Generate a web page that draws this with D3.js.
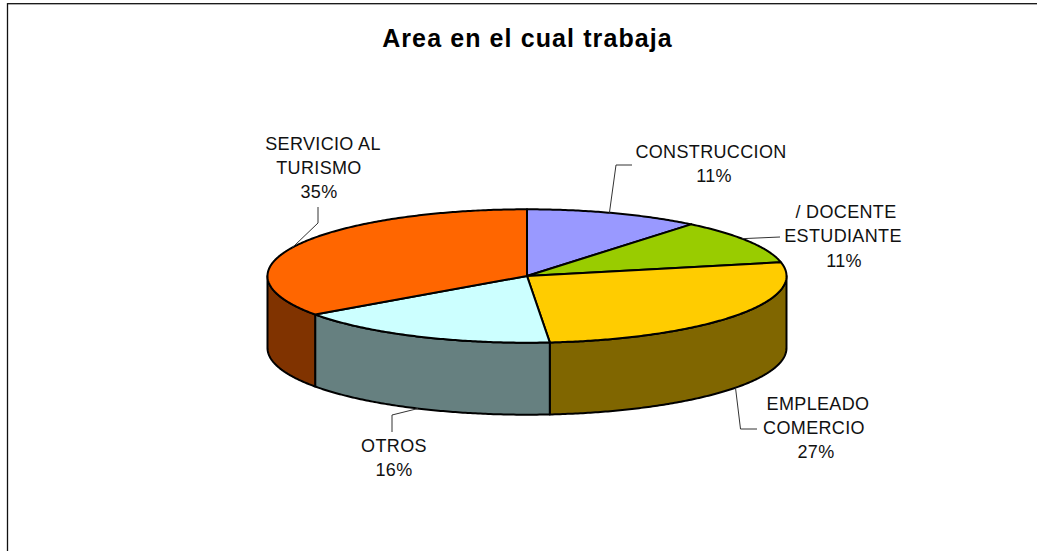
<!DOCTYPE html>
<html><head><meta charset="utf-8">
<script src="https://cdn.jsdelivr.net/npm/d3@7/dist/d3.min.js"></script>
<style>html,body{margin:0;padding:0;background:#fff}svg{display:block}</style></head>
<body><svg id="c" width="1037" height="551"></svg>
<script>
const chartTitle = "Area en el cual trabaja";
const categories = ["CONSTRUCCION","/ DOCENTE ESTUDIANTE","EMPLEADO COMERCIO","OTROS","SERVICIO AL TURISMO"];
const values = [10.9,10.8,26.9,16.6,34.8];
const percentLabels = ["11%","11%","27%","16%","35%"];
const nameLines = [["CONSTRUCCION"],["/ DOCENTE","ESTUDIANTE"],["EMPLEADO","COMERCIO"],["OTROS"],["SERVICIO AL","TURISMO"]];
const topColors = ["#9999FF","#99CC00","#FFCC00","#CCFFFF","#FF6600"];
const sideColors = ["#4D4D80","#4D6600","#806600","#668080","#803300"];

// layout of the annotation text and its leader lines
const nameCenters = [[711],[846,843],[818,814],[394],[323,319]];
const percentCenters = [714,844,816,394,319];
const firstBaselines = [158,218,410,452,150];
const linePitch = 24;
const leaderAngleShift = [-1.1,-2.7,0,0,-2];
const leaderBends = [[[616,165],[632,165]],[[780,237]],[[740.5,429],[757,429]],[[392,415],[392,432]],[[318,223],[318,207]]];

const svg = d3.select("#c");
const cx=527, cy=276, rx=259.5, ry=66.7, depth=72;
const X = d3.scaleLinear().domain([-1,1]).range([cx-rx,cx+rx]);
const Y = d3.scaleLinear().domain([-1,1]).range([cy-ry,cy+ry]);
const px = a => X(Math.sin(a));
const py = a => Y(-Math.cos(a));

svg.append("rect").attr("x",7.5).attr("y",3.7).attr("width",1200).attr("height",800)
  .attr("fill","#fff").attr("stroke","#111").attr("stroke-width",1.3);

svg.append("text").attr("x",527.5).attr("y",46.5).attr("text-anchor","middle")
  .attr("font-family","Liberation Sans").attr("font-weight","bold").attr("font-size",25)
  .attr("letter-spacing",1.1).text(chartTitle);

const arcs = d3.pie().sort(null).value(d=>d)(values);
function arcPts(a0,a1){const n=Math.max(2,Math.ceil((a1-a0)/0.01));return d3.range(n+1).map(i=>{const a=a0+(a1-a0)*i/n;return [px(a),py(a)];});}
const line = d3.line();
const front0=Math.PI/2, front1=3*Math.PI/2;
arcs.forEach((d,i)=>{
  const a0=Math.max(d.startAngle,front0), a1=Math.min(d.endAngle,front1);
  if(a1<=a0) return;
  const t=arcPts(a0,a1), b=t.slice().reverse().map(p=>[p[0],p[1]+depth]);
  svg.append("path").attr("d",line(t.concat(b))+"Z").attr("fill",sideColors[i]).attr("stroke","#000").attr("stroke-width",2).attr("stroke-linejoin","round");
});
arcs.forEach((d,i)=>{
  const pts=[[cx,cy]].concat(arcPts(d.startAngle,d.endAngle));
  svg.append("path").attr("d",line(pts)+"Z").attr("fill",topColors[i]).attr("stroke","#000").attr("stroke-width",2).attr("stroke-linejoin","round");
});
arcs.forEach((d,i)=>{
  const a=(d.startAngle+d.endAngle)/2+leaderAngleShift[i]*Math.PI/180;
  const front=Math.cos(a)<0 && i>=2 && i<=3;
  const s=[px(a),py(a)+(front?depth:0)];
  svg.append("path").attr("d",line([s].concat(leaderBends[i]))).attr("fill","none").attr("stroke","#333").attr("stroke-width",1);
});
function label(x,y,s){
  svg.append("text").attr("x",x).attr("y",y).attr("text-anchor","middle").attr("font-family","Liberation Sans")
   .attr("font-size",18).attr("letter-spacing",0.35).attr("fill","#111").text(s);
}
categories.forEach((c,i)=>{
  nameLines[i].forEach((s,j)=>label(nameCenters[i][j],firstBaselines[i]+j*linePitch,s));
  label(percentCenters[i],firstBaselines[i]+nameLines[i].length*linePitch+(i===1?1:0),percentLabels[i]);
});
</script></body></html>
